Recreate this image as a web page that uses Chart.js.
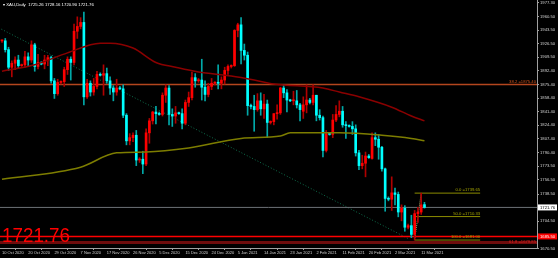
<!DOCTYPE html>
<html>
<head>
<meta charset="utf-8">
<script src="https://cdn.jsdelivr.net/npm/chart.js@4/dist/chart.umd.min.js"></script>
<style>
  html, body { margin: 0; padding: 0; background: #000; overflow: hidden; }
  canvas { display: block; background: #000; }
</style>
</head>
<body>
<canvas id="XauDaily" width="558" height="258"></canvas>
<script>
// daily bars, one per slot (Saturday stubs included, as the broker shows them)
const candleOpen = [1930,1930,1919,1897,1902,1906,1899,1900,1910,1906,1925,1898,1903,1901,1906,1909,1880,1864,1878,1879,
  1894,1907,1903,1942,1948,1953,1860,1877,1866,1873,1888,1887,1889,1880,1871,1866,1871,1870,1837,1805,
  1809,1812,1781,1782,1776,1815,1830,1841,1839,1838,1862,1871,1838,1836,1840,1839,1827,1853,1859,1884,
  1880,1881,1872,1863,1873,1877,1878,1877,1881,1893,1898,1899,1943,1950,1918,1912,1849,1848,1844,1855,
  1845,1851,1828,1829,1839,1840,1871,1865,1856,1855,1855,1850,1842,1850,1856,1853,1862,1837,1834,1793,
  1814,1813,1831,1838,1842,1825,1824,1823,1820,1790,1774,1777,1786,1783,1809,1807,1797,1770,1733,1732,
  1740,1738,1716,1721,1697,1699,1688,1714,1716,1725.26];
const candleHigh = [1931,1933,1922,1905,1910,1912,1901,1917,1915,1930,1927,1913,1904,1912,1912,1911,1883,1882,1880,1897,
  1910,1910,1951,1960,1959,1966,1882,1880,1883,1892,1890,1900,1896,1885,1874,1882,1873,1875,1839,1814,
  1815,1818,1784,1792,1820,1833,1842,1848,1841,1865,1875,1874,1845,1848,1841,1845,1856,1866,1891,1889,
  1883,1907,1880,1877,1883,1879,1900,1885,1897,1900,1900,1944,1952,1959,1926,1916,1851,1862,1864,1865,
  1863,1856,1830,1839,1850,1872,1875,1869,1857,1867,1868,1852,1860,1875,1858,1875,1862,1844,1836,1818,
  1815,1838,1849,1855,1848,1829,1825,1829,1825,1793,1787,1791,1788,1815,1815,1813,1798,1771,1735,1760,
  1746,1741,1725,1724,1701,1712,1718,1722,1739.65,1728.16];
const candleLow = [1928,1916,1893,1885,1894,1896,1898,1897,1898,1903,1892,1895,1900,1895,1899,1877,1858,1862,1876,1873,
  1888,1881,1900,1933,1945,1850,1858,1861,1862,1870,1886,1862,1877,1863,1855,1862,1869,1834,1800,1800,
  1804,1774,1778,1764,1774,1802,1826,1826,1837,1836,1853,1825,1823,1827,1838,1820,1825,1848,1856,1872,
  1878,1856,1855,1860,1869,1875,1870,1870,1876,1888,1896,1898,1935,1901,1906,1837,1845,1817,1842,1837,
  1833,1809,1826,1825,1832,1838,1859,1841,1854,1850,1846,1830,1833,1840,1851,1850,1830,1831,1785,1791,
  1812,1809,1829,1835,1822,1808,1822,1813,1786,1769,1770,1760,1783,1782,1799,1782,1767,1717,1730,1718,
  1725,1710,1705,1692,1695,1684,1681,1703,1713,1720.90];
const candleClose = [1930,1919,1897,1902,1906,1899,1900,1910,1906,1925,1898,1903,1901,1906,1909,1880,1864,1878,1879,1894,
  1907,1903,1942,1948,1953,1860,1877,1866,1873,1888,1887,1889,1880,1871,1866,1871,1870,1837,1805,1809,
  1812,1781,1782,1776,1815,1830,1841,1839,1838,1862,1871,1838,1836,1840,1839,1827,1853,1859,1884,1880,
  1881,1872,1863,1873,1877,1878,1877,1881,1893,1898,1899,1943,1950,1918,1912,1849,1848,1844,1855,1845,
  1851,1828,1829,1839,1840,1871,1865,1856,1855,1855,1850,1844,1850,1856,1853,1862,1837,1834,1793,1814,
  1813,1831,1838,1842,1825,1824,1823,1820,1790,1774,1777,1786,1784,1809,1807,1797,1770,1733,1732,1740,
  1738,1716,1721,1697,1699,1688,1714,1716,1725,1721.76];

const dateTicks = ['10 Oct 2020','20 Oct 2020','29 Oct 2020','7 Nov 2020','17 Nov 2020','26 Nov 2020','5 Dec 2020',
  '15 Dec 2020','24 Dec 2020','5 Jan 2021','14 Jan 2021','23 Jan 2021','2 Feb 2021','11 Feb 2021','20 Feb 2021',
  '2 Mar 2021','11 Mar 2021'];
const barsPerLabel = 8;
const priceTicks = [1977.30,1960.50,1943.50,1926.50,1909.50,1892.40,1875.40,1858.40,1841.40,1824.40,
  1807.40,1790.40,1773.50,1756.50,1738.50,1704.50,1670.50];

// moving averages at a few bars
const maRedIdx = [0,10,20,30,33,40,47,53,60,70,77,83,98,103,109,119,125,129];
const maRed    = [1892,1900,1915,1927,1927,1921,1903,1897,1891,1886,1881,1876,1871,1866,1860,1847,1836,1830];
const maOliveIdx = [0,24,35,44,57,73,85,88,103,116,125,129];
const maOlive    = [1757,1772,1790,1791,1796,1808,1811,1815,1815,1812,1808,1805];

const trendIdx = [-1, 124];
const trendPrice = [1946.3, 1682.9];

const fibIdx = [126, 128];
const fibEnd = 146;
const fibNames = ['0.0', '50.0', '100.0'];
const fibLevels = [1739.65, 1710.33, 1681.00];

const lastPrice = 1721.76;
const orangeLevel = 1875.40;
const redLevel = 1685.50;
const darkRedLevel = 1678.00;

const xMin = -0.61, xMax = 163.36;
const tinyFont = '"Liberation Sans"';

const idx = candleOpen.map((_, i) => i);
const isUp = candleClose.map((c, i) => c >= candleOpen[i]);
const bodyColors = isUp.map(u => u ? '#ff0000' : '#00ffff');
const wickColors = isUp.map(u => u ? '#b00000' : '#00a8a8');

function flat(v, from, to) {
    return [{x: from, y: v}, {x: to, y: v}];
}
function lineSet(data, color, width, extra) {
    return Object.assign({
        type: 'line', data: data, borderColor: color, borderWidth: width,
        pointRadius: 0, fill: false, order: 3,
    }, extra || {});
}

const overlayText = {
    id: 'overlayText',
    afterDatasetsDraw(chart) {
        const {ctx, scales: {x, y}} = chart;
        ctx.save();
        ctx.font = '4.2px ' + tinyFont;
        ctx.textAlign = 'right';
        ctx.textBaseline = 'bottom';
        ctx.fillStyle = '#a6a600';
        fibLevels.forEach((v, k) => {
            ctx.fillText(fibNames[k] + ' =' + v.toFixed(2), x.getPixelForValue(fibEnd), y.getPixelForValue(v) - 1);
        });
        ctx.fillStyle = '#d2551e';
        ctx.fillText('38.2 =' + orangeLevel.toFixed(2), chart.chartArea.right - 1, y.getPixelForValue(orangeLevel) - 1);
        ctx.fillStyle = '#e02020';
        ctx.fillText('61.8 =1679.85', chart.chartArea.right - 1, y.getPixelForValue(darkRedLevel) + 1);
        ctx.restore();
    },
    afterDraw(chart) {
        const {ctx, scales: {y}, chartArea} = chart;
        ctx.save();
        // header
        ctx.font = '4.3px ' + tinyFont;
        ctx.fillStyle = '#ffffff';
        ctx.textAlign = 'left';
        ctx.textBaseline = 'middle';
        ctx.fillText('\u25BE XAU,Daily  ' + [candleOpen, candleHigh, candleLow, candleClose]
            .map(a => a[a.length - 1].toFixed(2)).join(' '), 3, 5);
        // big last price
        ctx.font = '21px "Liberation Sans"';
        ctx.fillStyle = '#ff0000';
        ctx.textBaseline = 'alphabetic';
        const txt = lastPrice.toFixed(2);
        const w = ctx.measureText(txt).width;
        ctx.translate(2, 242);
        ctx.scale(68 / w, 1);
        ctx.fillText(txt, 0, 0);
        ctx.setTransform(1, 0, 0, 1, 0, 0);
        // axis price boxes
        ctx.font = '4.2px ' + tinyFont;
        ctx.textBaseline = 'middle';
        const box = (v, bg, fg) => {
            const py = y.getPixelForValue(v);
            ctx.fillStyle = bg;
            ctx.fillRect(chartArea.right + 1, py - 3, 19, 6);
            ctx.fillStyle = fg;
            ctx.fillText(v.toFixed(2), chartArea.right + 3, py + 0.3);
        };
        box(lastPrice, '#ffffff', '#000000');
        box(redLevel, '#ff0000', '#ffffff');
        ctx.restore();
    }
};

new Chart(document.getElementById('XauDaily'), {
    type: 'bar',
    plugins: [overlayText],
    data: {
        datasets: [
            lineSet(flat(orangeLevel, xMin - 1, xMax + 1), '#b4461e', 1.5),
            lineSet(flat(lastPrice, xMin - 1, xMax + 1), '#6c7176', 1),
            lineSet(flat(darkRedLevel, xMin - 1, xMax + 1), '#6e0c0c', 3),
            lineSet(flat(redLevel, xMin - 1, xMax + 1), '#ff0000', 1.5),
            lineSet(trendIdx.map((v, k) => ({x: v, y: trendPrice[k]})), '#0e6e4c', 1, {borderDash: [1, 2]}),
            ...fibLevels.map(v => lineSet(flat(v, fibIdx[0], fibEnd), '#8c8c00', 1)),
            lineSet(fibIdx.map((v, k) => ({x: v, y: k ? fibLevels[0] : fibLevels[2]})), '#b8b870', 1, {borderDash: [1, 1]}),
            lineSet(maRedIdx.map((v, k) => ({x: v, y: maRed[k]})), '#8a0000', 1.5, {cubicInterpolationMode: 'monotone', order: -1}),
            lineSet(maOliveIdx.map((v, k) => ({x: v, y: maOlive[k]})), '#7d7d00', 1.5, {cubicInterpolationMode: 'monotone', order: -1}),
            {
                label: 'wick',
                data: idx.map(i => ({x: i, y: [candleLow[i], candleHigh[i]]})),
                backgroundColor: wickColors,
                barThickness: 1,
                grouped: false,
                order: 1,
            },
            {
                label: 'body',
                data: idx.map(i => ({x: i, y: [candleOpen[i], candleClose[i]]})),
                backgroundColor: bodyColors,
                barThickness: 2,
                minBarLength: 1,
                grouped: false,
                order: 0,
            },
        ]
    },
    options: {
        responsive: false,
        animation: false,
        events: [],
        layout: { padding: 0 },
        scales: {
            x: {
                type: 'linear',
                offset: false,
                min: xMin,
                max: xMax,
                afterBuildTicks: s => { s.ticks = dateTicks.map((_, k) => ({value: k * barsPerLabel})); },
                afterFit: s => { s.height = 10; s.paddingLeft = 0; s.paddingRight = 0; },
                ticks: {
                    callback: v => dateTicks[Math.round(v / barsPerLabel)],
                    align: 'start',
                    autoSkip: false,
                    maxRotation: 0,
                    padding: 0.5,
                    color: '#d0d0d0',
                    font: { family: 'Liberation Sans', size: 4 },
                },
                grid: { drawOnChartArea: false, tickLength: 2, color: '#a0a0a0' },
                border: { color: '#a0a0a0' },
            },
            y: {
                position: 'right',
                min: 1671.05,
                max: 1981.05,
                afterBuildTicks: s => { s.ticks = priceTicks.map(v => ({value: v})); },
                afterFit: s => { s.width = 21; s.paddingTop = 0; s.paddingBottom = 0; },
                ticks: {
                    callback: v => v.toFixed(2),
                    padding: 1,
                    color: '#d0d0d0',
                    font: { family: 'Liberation Sans', size: 4.2 },
                },
                grid: { drawOnChartArea: false, tickLength: 2, color: '#a0a0a0' },
                border: { color: '#a0a0a0' },
            },
        },
        plugins: {
            legend: { display: false },
            tooltip: { enabled: false },
        },
    },
});
</script>
</body>
</html>
